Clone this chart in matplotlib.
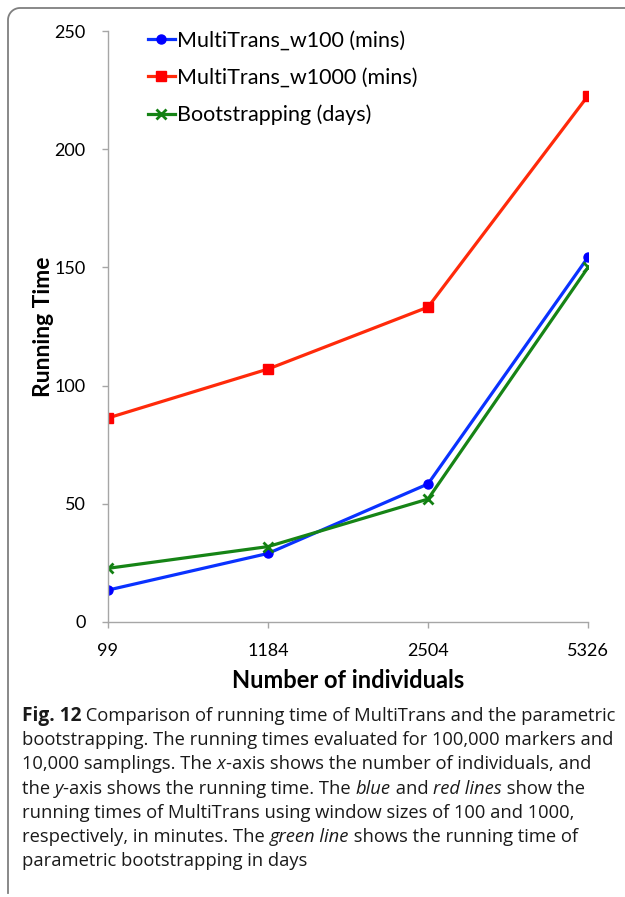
import numpy as np
import matplotlib
matplotlib.use("Agg")
import matplotlib.pyplot as plt
from matplotlib.lines import Line2D

# running times per sample size
individuals = ["99", "1184", "2504", "5326"]
w100_mins = [13.5, 29, 58.4, 154.3]
w1000_mins = [86.3, 107, 133.2, 222.6]
boot_days = [22.7, 31.9, 52, 150]
y_ticks = [0, 50, 100, 150, 200, 250]

caption_lines = [
    [("Fig. 12", "bold"), (" Comparison of running time of MultiTrans and the parametric", "normal")],
    [("bootstrapping. The running times evaluated for 100,000 markers and", "normal")],
    [("10,000 samplings. The ", "normal"), ("x", "italic"),
     ("-axis shows the number of individuals, and", "normal")],
    [("the ", "normal"), ("y", "italic"), ("-axis shows the running time. The ", "normal"),
     ("blue", "italic"), (" and ", "normal"), ("red lines", "italic"), (" show the", "normal")],
    [("running times of MultiTrans using window sizes of 100 and 1000,", "normal")],
    [("respectively, in minutes. The ", "normal"), ("green line", "italic"),
     (" shows the running time of", "normal")],
    [("parametric bootstrapping in days", "normal")],
]

W, H = 625, 897
plt.rcParams["font.family"] = ["Lato", "DejaVu Sans"]
fig = plt.figure(figsize=(W / 100, H / 100), dpi=100)
ax = fig.add_axes([108 / W, 1 - 622 / H, 480 / W, 591 / H])

x = np.arange(len(individuals))
ax.plot(x, w100_mins, color="#0a32ff", lw=2.3, marker="o", ms=6.5,
        mfc="#0000ff", mec="#0000ff", label="MultiTrans_w100 (mins)")
ax.plot(x, w1000_mins, color="#ff2a0a", lw=2.3, marker="s", ms=6.5,
        mfc="#ff0000", mec="#ff0000", label="MultiTrans_w1000 (mins)")
ax.plot(x, boot_days, color="#168416", lw=2.3, marker="x", ms=7, mew=2,
        mec="#128012", label="Bootstrapping (days)")

ax.set_xlim(0, len(individuals) - 1)
ax.set_ylim(0, 250)
ax.set_xticks(x)
ax.set_xticklabels(individuals)
ax.set_yticks(y_ticks)
for s in ("top", "right"):
    ax.spines[s].set_visible(False)
for s in ("left", "bottom"):
    ax.spines[s].set_color("#a6a6a6")
    ax.spines[s].set_linewidth(1.0)
ax.tick_params(axis="both", colors="#a6a6a6", labelcolor="black",
               labelsize=13, length=4, width=1)
ax.tick_params(axis="x", pad=11)
ax.tick_params(axis="y", pad=12)

ax.legend(loc="upper left", bbox_to_anchor=(148 / W, 1 - 31 / H),
          bbox_transform=fig.transFigure, frameon=False, fontsize=15.5,
          handlelength=1.25, handletextpad=0.1, labelspacing=0.78,
          borderaxespad=0, borderpad=0)

fig.text(44 / W, 1 - 327 / H, "Running Time", rotation=90, fontsize=16.5,
         fontweight="bold", ha="center", va="center")
fig.text(348 / W, 1 - 680 / H, "Number of individuals", fontsize=17,
         fontweight="bold", ha="center", va="center")

# frame: left and top edge with rounded corner
r = 12
t = np.linspace(np.pi, np.pi / 2, 20)
fx = np.concatenate([[8], 8 + r + r * np.cos(t), [W]])
fy = np.concatenate([[893], 8 + r - r * np.sin(t), [8]])
fig.add_artist(Line2D(fx / W, 1 - fy / H, transform=fig.transFigure,
                      color="#7f7f7f", lw=1.3))

# caption, drawn piece by piece so bold/italic runs can be mixed
renderer = fig.canvas.get_renderer()
cap_font = ["Open Sans", "DejaVu Sans"]
for i, parts in enumerate(caption_lines):
    xpos = 22
    ybase = 721 + i * 24.2
    for txt, style in parts:
        kw = dict(fontsize=13.2, family=cap_font, va="baseline", ha="left",
                  color="#1a1a1a")
        if style == "bold":
            kw["fontweight"] = "bold"
            kw["fontsize"] = 13.8
        elif style == "italic":
            kw["style"] = "italic"
        tx = fig.text(xpos / W, 1 - ybase / H, txt, **kw)
        bb = tx.get_window_extent(renderer)
        xpos += bb.width

fig.savefig("out.png", dpi=100)
